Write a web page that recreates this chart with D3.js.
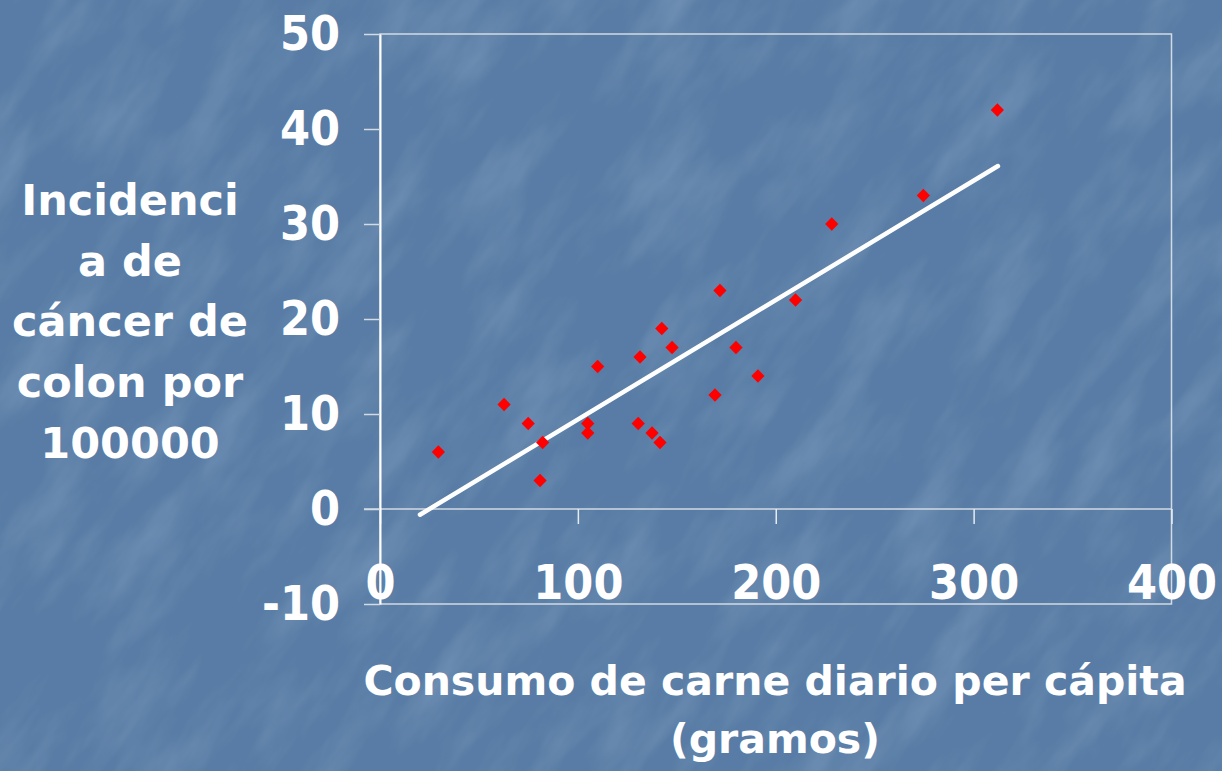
<!DOCTYPE html>
<html>
<head>
<meta charset="utf-8">
<script src="https://cdn.jsdelivr.net/npm/d3@7"></script>
<style>
  html, body { margin: 0; padding: 0; background: #5b80a9; }
  svg { display: block; }
  text { font-family: 'DejaVu Sans', sans-serif; font-weight: bold; fill: #ffffff; }
  .tick text { font-family: 'DejaVu Sans Condensed', 'DejaVu Sans', sans-serif; font-stretch: condensed; }
</style>
</head>
<body>
<svg id="chart" width="1222" height="771"></svg>
<script>
const W = 1222, H = 771;

// values
const meatGrams = [29.5, 62.7, 74.9, 82.2, 80.9, 105, 105, 110, 130.5, 131.4, 137.5,
                   141.5, 142.4, 147.6, 169.3, 171.8, 179.9, 191, 210, 228.3, 274.6, 312];
const colonRate = [6, 11, 9, 7, 3, 9, 8, 15, 9, 16, 8,
                   7, 19, 17, 12, 23, 17, 14, 22, 30, 33, 42];
const trendX    = [20.2, 312.3];
const trendY    = [-0.6, 36.1];
const xTicks    = [0, 100, 200, 300, 400];
const yTicks    = [-10, 0, 10, 20, 30, 40, 50];
const yTitle    = ["Incidenci", "a de", "cáncer de", "colon por", "100000"];
const xTitle    = ["Consumo de carne diario per cápita", "(gramos)"];

const svg = d3.select("#chart");

// textured slide background
const defs = svg.append("defs");
const f = defs.append("filter").attr("id", "tex")
  .attr("x", 0).attr("y", 0).attr("width", 1).attr("height", 1);
f.append("feTurbulence")
  .attr("type", "fractalNoise")
  .attr("baseFrequency", "0.008 0.025")
  .attr("numOctaves", 4)
  .attr("seed", 11);
f.append("feColorMatrix")
  .attr("type", "matrix")
  .attr("values", "0 0 0 0 0.8  0 0 0 0 0.88  0 0 0 0 1  0 0 0 0.9 -0.38");

svg.append("rect").attr("width", W).attr("height", H).attr("fill", "#587ca5");
svg.append("rect")
   .attr("x", -600).attr("y", -600).attr("width", 2400).attr("height", 2000)
   .attr("filter", "url(#tex)")
   .attr("transform", `rotate(-55 ${W / 2} ${H / 2})`)
   .attr("opacity", 0.35);

const x = d3.scaleLinear().domain([0, 400]).range([380, 1171.5]);
const y = d3.scaleLinear().domain([-10, 50]).range([604, 34]);

// plot area border
svg.append("rect")
   .attr("x", x(0)).attr("y", y(50))
   .attr("width", x(400) - x(0)).attr("height", y(-10) - y(50))
   .attr("fill", "none")
   .attr("stroke", "#d2dae3")
   .attr("stroke-width", 1.5);

// x axis (crosses at y = 0)
svg.append("line")
   .attr("x1", x(0) - 16).attr("x2", x(400))
   .attr("y1", y(0)).attr("y2", y(0))
   .attr("stroke", "#d2dae3").attr("stroke-width", 1.5);

const xAxis = svg.append("g")
  .attr("transform", `translate(0,${y(0)})`)
  .call(d3.axisBottom(x).tickValues(xTicks).tickSize(15).tickPadding(41).tickFormat(d => String(d)));
xAxis.select(".domain").remove();
xAxis.selectAll(".tick line").attr("stroke", "#e6ebf0").attr("stroke-width", 1.5);
xAxis.selectAll("text").attr("font-size", 48).attr("fill", "#fff")
     .attr("font-family", null);

// y axis
const yAxis = svg.append("g")
  .attr("transform", `translate(${x(0)},0)`)
  .call(d3.axisLeft(y).tickValues(yTicks).tickSize(16).tickPadding(24).tickSizeOuter(0).tickFormat(d => String(d)));
yAxis.select(".domain").attr("stroke", "#ffffff").attr("stroke-width", 2);
yAxis.selectAll(".tick line").attr("stroke", "#d2dae3").attr("stroke-width", 1.5);
yAxis.selectAll("text").attr("font-size", 48).attr("fill", "#fff")
     .attr("font-family", null);

// trend line
svg.append("line")
   .attr("x1", x(trendX[0])).attr("y1", y(trendY[0]))
   .attr("x2", x(trendX[1])).attr("y2", y(trendY[1]))
   .attr("stroke", "#ffffff")
   .attr("stroke-width", 4.5)
   .attr("stroke-linecap", "round");

// points
const pts = meatGrams.map((g, i) => ({ g, r: colonRate[i] }));
svg.append("g")
  .selectAll("path")
  .data(pts)
  .enter().append("path")
    .attr("d", d3.symbol(d3.symbolSquare, 88))
    .attr("transform", d => `translate(${x(d.g)},${y(d.r)}) rotate(45)`)
    .attr("fill", "#ff0000");

// y title
svg.append("text")
   .attr("text-anchor", "middle")
   .attr("font-size", 43)
   .selectAll("tspan")
   .data(yTitle)
   .enter().append("tspan")
     .attr("x", 130)
     .attr("y", (d, i) => 215 + i * 60.7)
     .text(d => d);

// x title
svg.append("text")
   .attr("text-anchor", "middle")
   .attr("font-size", 41)
   .selectAll("tspan")
   .data(xTitle)
   .enter().append("tspan")
     .attr("x", 775)
     .attr("y", (d, i) => 695 + i * 58)
     .text(d => d);
</script>
</body>
</html>
